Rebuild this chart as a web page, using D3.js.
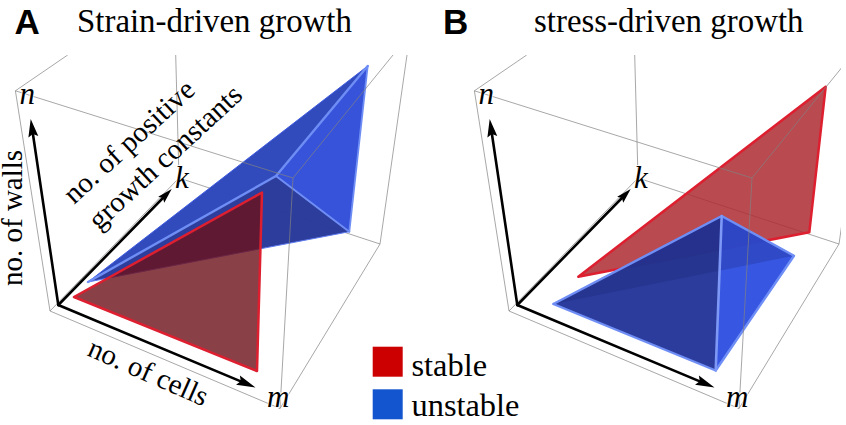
<!DOCTYPE html>
<html>
<head>
<meta charset="utf-8">
<script src="https://cdn.jsdelivr.net/npm/d3@7"></script>
<style>
  html, body { margin: 0; padding: 0; background: #fff; }
  svg { display: block; }
  text { font-family: "Liberation Serif", serif; fill: #000; }
</style>
</head>
<body>
<svg id="chart" width="846" height="425"></svg>
<script>
// Parameter-space corners of the bounding box, in shared plane units
const boxO = [50, 311], boxM = [280, 408.5], boxN = [15.4, 90.8], boxK = [179, 178];
const boxT = [293, 178], boxR = [380, 244];
const boxTopN = [67.7, 55], boxTopK = [175.7, 55], boxTopT = [393, 55], boxTopR = [407, 55];
const hiddenEdges = [[boxO, boxK], [boxK, boxR], [boxK, boxTopK]];
const frontEdges = [[boxN, boxTopN], [boxN, boxO], [boxO, boxM], [boxM, boxR], [boxN, boxT],
                    [boxT, boxTopT], [boxT, boxM], [boxR, boxTopR]];

// Coordinate arrows shared by the two panels
const axisOrigin = [58.3, 305];
const axisTips = [
  { to: [30.7, 119], len: 18, wid: 10 },
  { to: [171.7, 189], len: 15, wid: 8.5 },
  { to: [255.5, 387.5], len: 19, wid: 10 }
];

// Panel A: stability regions under strain-driven growth
const strainApex = [367.7, 66], strainCentre = [276, 176], strainFoot = [349.3, 231.7], strainTip = [88, 282];
const strainStable = [[74, 297], [262, 192.5], [257, 371]];

// Panel B: stability regions under stress-driven growth
const stressStable = [[366.7, 86.7], [350.3, 232.3], [119.3, 276.7]];
const stressTop = [262.7, 216], stressLeft = [94.3, 304], stressBottom = [256.7, 370.5], stressRight = [335, 255.7];

const panelOffsets = { A: 0, B: 459 };
const colors = { stable: "#cc0000", unstable: "#1255cf" };
const legendEntries = ["stable", "unstable"];
const legendBaselines = { stable: 376, unstable: 416 };
const titles = { A: "Strain-driven growth", B: "stress-driven growth" };

const svg = d3.select("#chart");
const defs = svg.append("defs");
const y = d3.scaleLinear().domain([0, 425]).range([0, 425]);

const face = (pts, fill, op) => ({ pts, fill, op, closed: true });
const rim = (pts, color, w) => ({ pts, color, w, closed: false });

function drawPanel(key, layers) {
  const off = panelOffsets[key];
  const x = d3.scaleLinear().domain([0, 400]).range([off, off + 400]);
  const line = d3.line().x(d => x(d[0])).y(d => y(d[1]));
  const clipId = "frame" + key;
  defs.append("clipPath").attr("id", clipId).append("rect")
    .attr("x", off).attr("y", 55).attr("width", 841 - off).attr("height", 370);
  const g = svg.append("g").attr("clip-path", `url(#${clipId})`);

  const edge = (sel, data) => sel.selectAll(null).data(data).join("path")
    .attr("d", line).attr("fill", "none")
    .attr("stroke", "#828282").attr("stroke-opacity", 0.7).attr("stroke-width", 1);

  edge(g.append("g"), hiddenEdges);

  // Translucent surfaces and their outlines, back to front
  g.append("g").selectAll("path").data(layers).join("path")
    .attr("d", d => line(d.pts) + (d.closed ? "Z" : ""))
    .attr("fill", d => d.closed ? d.fill : "none")
    .attr("fill-opacity", d => d.closed ? d.op : null)
    .attr("stroke", d => d.closed ? "none" : d.color)
    .attr("stroke-width", d => d.closed ? null : d.w)
    .attr("stroke-linejoin", "round").attr("stroke-linecap", "round");

  edge(g.append("g"), frontEdges);

  // Axis arrows
  const arrows = g.append("g");
  axisTips.forEach(a => {
    const x0 = x(axisOrigin[0]), y0 = y(axisOrigin[1]), x1 = x(a.to[0]), y1 = y(a.to[1]);
    const L = Math.hypot(x1 - x0, y1 - y0), ux = (x1 - x0) / L, uy = (y1 - y0) / L;
    const bx = x1 - ux * a.len, by = y1 - uy * a.len;
    const nx = bx + ux * a.len * 0.16, ny = by + uy * a.len * 0.16;
    arrows.append("line").attr("x1", x0).attr("y1", y0).attr("x2", nx).attr("y2", ny)
      .attr("stroke", "#000").attr("stroke-width", 2.6).attr("stroke-linecap", "round");
    arrows.append("path").attr("fill", "#000").attr("d", d3.line()([
      [x1, y1],
      [bx - uy * a.wid / 2, by + ux * a.wid / 2],
      [nx, ny],
      [bx + uy * a.wid / 2, by - ux * a.wid / 2]
    ]) + "Z");
  });

  // Italic axis letters with a white halo over the box lines
  const letters = [["n", 19.5, 104], ["k", 175, 187.5], ["m", 267, 407]];
  svg.append("g").selectAll("text").data(letters).join("text")
    .attr("x", d => x(d[1])).attr("y", d => y(d[2])).text(d => d[0])
    .attr("font-style", "italic").attr("font-size", 31)
    .attr("stroke", "#fff").attr("stroke-width", 2).attr("stroke-opacity", 0.85).attr("paint-order", "stroke");
}

drawPanel("A", [
  face([strainTip, strainApex, strainCentre], "#2d47bc", 0.98),
  face([strainCentre, strainApex, strainFoot], "#3350d8", 0.98),
  face([strainTip, strainCentre, strainFoot], "#29399a", 0.98),
  rim([strainTip, strainFoot], "#5f7cf0", 1),
  rim([strainTip, strainApex], "#3f5ce0", 1),
  rim([strainApex, strainFoot], "#6f8ef5", 1.8),
  rim([strainTip, strainCentre, strainApex], "#6f8ef5", 2.4),
  rim([strainCentre, strainFoot], "#6f8ef5", 2),
  face(strainStable, "#6d1019", 0.8),
  rim([...strainStable, strainStable[0]], "#dd1f30", 2.5)
]);

drawPanel("B", [
  face(stressStable, "#ac2a31", 0.85),
  rim([...stressStable, stressStable[0]], "#dd1f30", 2.5),
  face([stressLeft, stressTop, stressBottom], "#28389a", 0.98),
  face([stressTop, stressRight, stressBottom], "#3353e0", 0.98),
  face([stressLeft, stressTop, stressRight], "#101a60", 0.2),
  rim([stressLeft, stressTop, stressRight, stressBottom, stressLeft], "#6f8ef5", 2.4),
  rim([stressTop, stressBottom], "#7d98f6", 2.6)
]);

// Panel letters and titles
const panelLetters = [["A", 14.5, 33.5], ["B", 443, 33.5]];
svg.append("g").selectAll("text").data(panelLetters).join("text")
  .attr("x", d => d[1]).attr("y", d => d[2]).text(d => d[0])
  .style("font-family", "'Liberation Sans', sans-serif").attr("font-weight", "bold").attr("font-size", 35);

const titleRows = [[titles.A, 77], [titles.B, 534]];
svg.append("g").selectAll("text").data(titleRows).join("text")
  .attr("x", d => d[1]).attr("y", 32).text(d => d[0]).attr("font-size", 32.9);

// Rotated axis descriptions
const axisNotes = [
  ["no. of walls", 22, 286, -90],
  ["no. of positive", 74, 205, -42.6],
  ["growth constants", 99, 231, -42.7],
  ["no. of cells", 86, 355, 23.8]
];
svg.append("g").selectAll("text").data(axisNotes).join("text")
  .attr("transform", d => `translate(${d[1]},${d[2]}) rotate(${d[3]})`)
  .text(d => d[0]).attr("font-size", 29);

// Legend
const legendY = d3.scalePoint().domain(legendEntries).range([346.7, 389.3]);
const legend = svg.append("g");
legend.selectAll("rect").data(legendEntries).join("rect")
  .attr("x", 372.7).attr("y", d => legendY(d)).attr("width", 30).attr("height", 30)
  .attr("fill", d => colors[d]);
legend.selectAll("text").data(legendEntries).join("text")
  .attr("x", 411.5).attr("y", d => legendBaselines[d]).text(d => d).attr("font-size", 32.4);
</script>
</body>
</html>
